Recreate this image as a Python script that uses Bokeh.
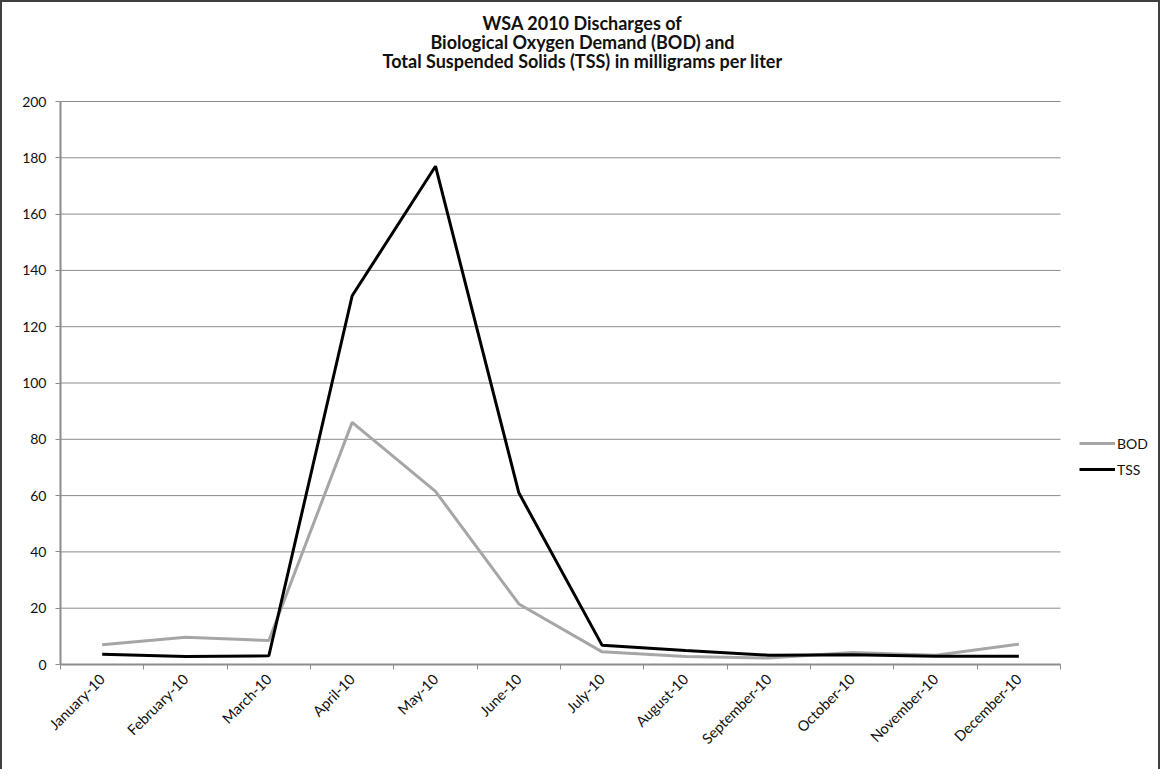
import math
from bokeh.plotting import figure
from bokeh.models import Range1d, FixedTicker, Legend, LegendItem, Label
from bokeh.embed import file_html
from bokeh.resources import INLINE

months = ["January-10", "February-10", "March-10", "April-10", "May-10", "June-10",
          "July-10", "August-10", "September-10", "October-10", "November-10", "December-10"]
bod = [7.0, 9.7, 8.5, 86.0, 61.5, 21.5, 4.5, 2.8, 2.3, 4.3, 3.3, 7.2]
tss = [3.6, 2.8, 3.1, 131.0, 177.0, 61.0, 6.8, 5.0, 3.3, 3.5, 2.9, 2.9]
y_ticks = [0, 20, 40, 60, 80, 100, 120, 140, 160, 180, 200]
title_lines = ["WSA 2010 Discharges of",
               "Biological Oxygen Demand (BOD) and",
               "Total Suspended Solids (TSS) in milligrams per liter"]

FONT = "Lato"
TXT = "#111111"
GRID = "#8c8c8c"
n = len(months)
x = [i + 0.5 for i in range(n)]

# frame covers the whole canvas except left/bottom axis panels;
# plot region (0..n, 0..200) occupies 1000 x 563 px of it
W, H = 1160, 769
LEFT, BOTTOM = 58, 107
frame_w, frame_h = W - LEFT, H - BOTTOM
x_end = n * frame_w / 1000.0
y_end = 200 * frame_h / 563.0

p = figure(width=W, height=H, output_backend="svg", toolbar_location=None,
           x_range=Range1d(0, x_end), y_range=Range1d(0, y_end), title=None)
p.min_border_left = LEFT
p.min_border_right = 0
p.min_border_top = 0
p.min_border_bottom = BOTTOM
p.outline_line_color = None
p.background_fill_color = "white"
p.border_fill_color = "white"
p.styles = {"border-left": "2px solid #404040", "border-top": "2px solid #404040",
            "border-right": "2px solid #404040"}

p.xgrid.grid_line_color = None
p.ygrid.grid_line_color = None
# horizontal gridlines limited to the plot region
p.segment(x0=[0] * (len(y_ticks) - 1), x1=[n] * (len(y_ticks) - 1),
          y0=y_ticks[1:], y1=y_ticks[1:], line_color=GRID, line_width=1)

# y axis
p.yaxis.ticker = FixedTicker(ticks=y_ticks)
p.yaxis.bounds = (0, 200)
p.yaxis.axis_line_color = GRID
p.yaxis.axis_line_width = 2
p.yaxis.major_tick_line_color = GRID
p.yaxis.major_tick_in = 0
p.yaxis.major_tick_out = 5
p.yaxis.minor_tick_line_color = None
p.yaxis.major_label_text_font = FONT
p.yaxis.major_label_text_font_size = "14px"
p.yaxis.major_label_text_color = TXT
p.yaxis.major_label_standoff = 9

# x axis: labels at category centers, ticks at category boundaries (minor ticks)
p.xaxis.ticker = FixedTicker(ticks=x, minor_ticks=list(range(n + 1)))
p.xaxis.bounds = (0, n)
p.xaxis.major_label_overrides = {xi: m for xi, m in zip(x, months)}
p.xaxis.axis_line_color = GRID
p.xaxis.axis_line_width = 2
p.xaxis.major_tick_line_color = None
p.xaxis.minor_tick_line_color = GRID
p.xaxis.minor_tick_in = 0
p.xaxis.minor_tick_out = 5
p.xaxis.major_label_orientation = math.pi / 4
p.xaxis.major_label_text_font = FONT
p.xaxis.major_label_text_font_size = "14.5px"
p.xaxis.major_label_text_color = TXT
p.xaxis.major_label_standoff = 6

r_bod = p.line(x, bod, line_color="#a6a6a6", line_width=3)
r_tss = p.line(x, tss, line_color="#000000", line_width=3)

legend = Legend(items=[LegendItem(label="BOD", renderers=[r_bod]),
                       LegendItem(label="TSS", renderers=[r_tss])],
                location=(1019, 185), border_line_color=None,
                background_fill_alpha=0, padding=0, margin=0, spacing=6,
                glyph_width=36, glyph_height=20, label_height=20, label_standoff=2,
                label_text_font=FONT, label_text_font_size="14px",
                label_text_color=TXT)
p.add_layout(legend, "center")

title_y = [642, 623, 604]
for line, ty in zip(title_lines, title_y):
    p.add_layout(Label(x=522, y=ty, x_units="screen", y_units="screen", text=line,
                       text_align="center", text_baseline="middle",
                       text_font=FONT, text_font_style="bold",
                       text_font_size="18px", text_color=TXT))

open("out.html", "w").write(file_html(p, INLINE))
